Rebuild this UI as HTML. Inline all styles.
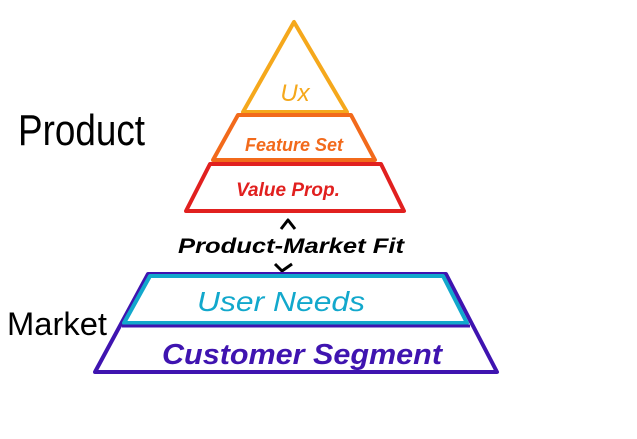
<!DOCTYPE html><html><head><style>body{margin:0;background:#fff}</style></head><body>
<svg width="637" height="434" viewBox="0 0 637 434" xmlns="http://www.w3.org/2000/svg" font-family="'Comic Sans MS','Liberation Sans',sans-serif" stroke-linejoin="round">
<polygon points="294,22 243,112 347,112" fill="none" stroke="#f5a81c" stroke-width="4"/>
<text x="295" y="101" fill="#f5a81c" font-size="24" text-anchor="middle" font-style="italic">Ux</text>
<polygon points="238,115 351,115 375,160 213,160" fill="none" stroke="#f26a1b" stroke-width="4"/>
<text x="294" y="151" fill="#f26a1b" font-size="18" font-weight="bold" text-anchor="middle" font-style="italic">Feature Set</text>
<polygon points="210,164 381,164 404,211 186,211" fill="none" stroke="#e1201f" stroke-width="4"/>
<text x="288" y="196" fill="#e1201f" font-size="19" font-weight="bold" text-anchor="middle" font-style="italic">Value Prop.</text>
<path d="M281,229 L288,220 L295,229" fill="none" stroke="#000" stroke-width="3"/>
<text x="178" y="253" fill="#000" font-size="21" font-weight="bold" font-style="italic" textLength="226" lengthAdjust="spacingAndGlyphs">Product-Market Fit</text>
<path d="M275,264 L282,271 L292,264" fill="none" stroke="#000" stroke-width="3"/>
<polygon points="148,274 446,274 497,372 95,372" fill="none" stroke="#3f14b0" stroke-width="4"/>
<polygon points="150,276 443,276 467,323 124,323" fill="none" stroke="#12a8cc" stroke-width="4"/>
<line x1="122" y1="326" x2="470" y2="326" stroke="#3f14b0" stroke-width="3"/>
<text x="197" y="311" fill="#12a8cc" font-size="28" font-style="italic" textLength="168" lengthAdjust="spacingAndGlyphs">User Needs</text>
<text x="162" y="364" fill="#3f14b0" font-size="29" font-weight="bold" font-style="italic" textLength="280" lengthAdjust="spacingAndGlyphs">Customer Segment</text>
<text x="18" y="145" fill="#000" font-size="44" textLength="127" lengthAdjust="spacingAndGlyphs">Product</text>
<text x="7" y="335" fill="#000" font-size="32" textLength="100" lengthAdjust="spacingAndGlyphs">Market</text>
</svg>
</body></html>
